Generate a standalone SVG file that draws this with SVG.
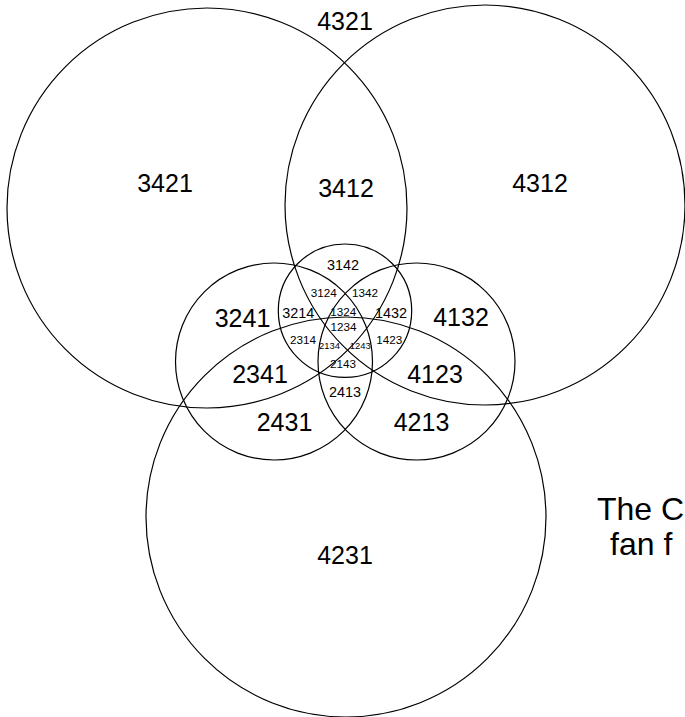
<svg xmlns="http://www.w3.org/2000/svg" width="685" height="717" viewBox="0 0 685 717">
<style>
.c{fill:none;stroke:#000;stroke-width:1.2}
text{font-family:"Liberation Sans",Arial,sans-serif;fill:#000;text-anchor:middle}
.L{font-size:25px}
.M{font-size:14.4px}
.S{font-size:11.7px}
.T{font-size:9.4px}
.cap{font-size:32px;text-anchor:start}
</style>
<rect width="685" height="717" fill="#fff"/>
<g id="circles">
<circle id="bigLeft" class="c" cx="207" cy="208" r="200"/>
<circle id="bigRight" class="c" cx="485" cy="205" r="200"/>
<circle id="bigBottom" class="c" cx="346" cy="517" r="200"/>
<circle id="smallTop" class="c" cx="345" cy="310.7" r="66.7"/>
<circle id="smallLeft" class="c" cx="274" cy="361.5" r="98.5"/>
<circle id="smallRight" class="c" cx="416.5" cy="361.5" r="98.5"/>
</g>
<g id="labels">
<text class="L" x="345" y="30">4321</text>
<text class="L" x="165" y="192">3421</text>
<text class="L" x="346" y="197">3412</text>
<text class="L" x="540" y="192">4312</text>
<text class="L" x="242.5" y="327">3241</text>
<text class="L" x="461" y="326">4132</text>
<text class="L" x="260" y="383">2341</text>
<text class="L" x="435" y="383">4123</text>
<text class="L" x="284.5" y="431">2431</text>
<text class="L" x="421.5" y="431">4213</text>
<text class="L" x="345" y="564">4231</text>
<text class="M" x="343" y="270">3142</text>
<text class="M" x="298.3" y="318">3214</text>
<text class="M" x="391" y="318">1432</text>
<text class="M" x="345" y="397">2413</text>
<text class="S" x="323.7" y="297">3124</text>
<text class="S" x="365" y="297">1342</text>
<text class="S" x="343.3" y="316">1324</text>
<text class="S" x="343.5" y="330.5">1234</text>
<text class="S" x="303" y="344">2314</text>
<text class="S" x="389.3" y="344">1423</text>
<text class="S" x="343" y="368">2143</text>
<text class="T" x="329.5" y="349">2134</text>
<text class="T" x="360.3" y="349">1243</text>
</g>
<g id="caption">
<text class="cap" x="597" y="520">The C</text>
<text class="cap" x="610" y="555">fan f</text>
</g>
</svg>
